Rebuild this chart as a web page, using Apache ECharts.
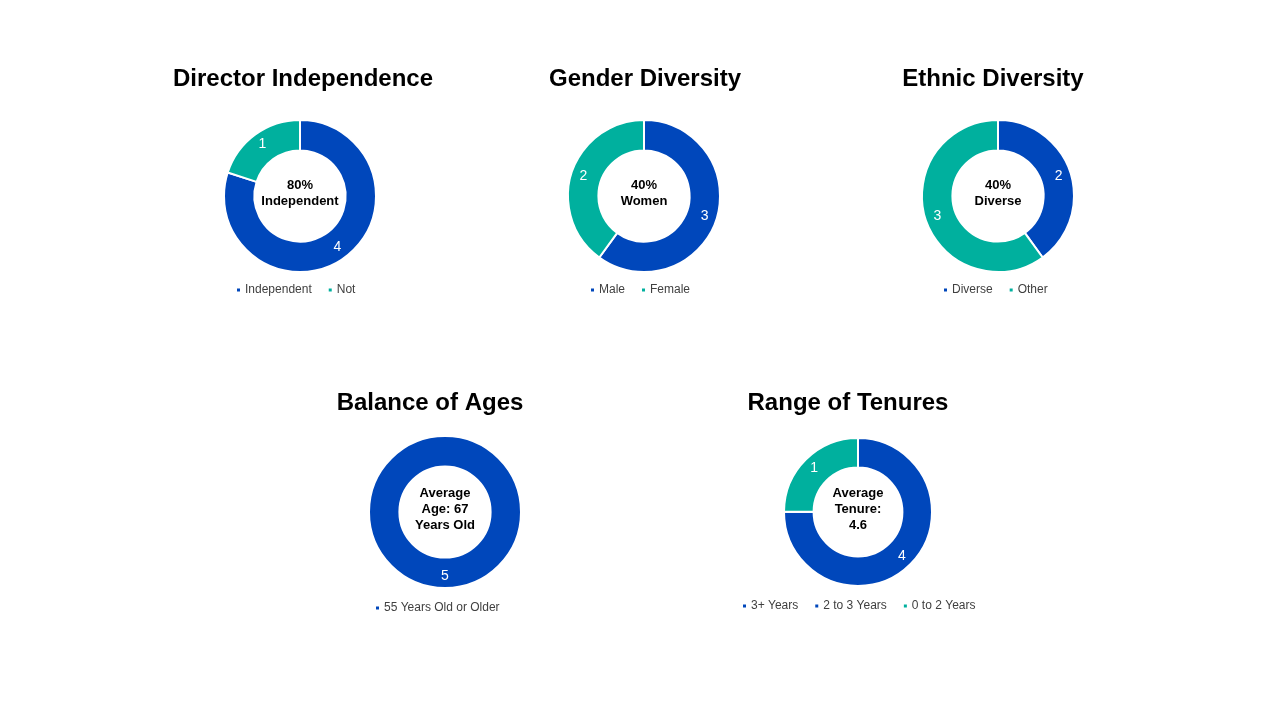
<!DOCTYPE html>
<html><head><meta charset="utf-8">
<script src="https://cdn.jsdelivr.net/npm/echarts@6/dist/echarts.min.js"></script>
<style>html,body{margin:0;padding:0;background:#fff}#c{width:1280px;height:720px}</style>
</head><body><div id="c"></div>
<script>
const BLUE = '#0047BB', TEAL = '#00B09E';
const chartTitles = ['Director Independence', 'Gender Diversity', 'Ethnic Diversity', 'Balance of Ages', 'Range of Tenures'];
const centerTexts = ['80%\nIndependent', '40%\nWomen', '40%\nDiverse', 'Average\nAge: 67\nYears Old', 'Average\nTenure:\n4.6'];
const independenceNames = ['Independent', 'Not'];
const independenceValues = [4, 1];
const genderNames = ['Male', 'Female'];
const genderValues = [3, 2];
const ethnicNames = ['Diverse', 'Other'];
const ethnicValues = [2, 3];
const ageNames = ['55 Years Old or Older'];
const ageValues = [5];
const tenureNames = ['3+ Years', '2 to 3 Years', '0 to 2 Years'];
// teal slice is drawn as a quarter of the ring in the reference; its label reads "1"
const tenureValues = [4, 0, 1.33];

const groups = [
  {names: independenceNames, values: independenceValues, colors: [BLUE, TEAL], c: [300, 196], r: 76, t: [303, 67], l: 279},
  {names: genderNames, values: genderValues, colors: [BLUE, TEAL], c: [644, 196], r: 76, t: [645, 67], l: 279},
  {names: ethnicNames, values: ethnicValues, colors: [BLUE, TEAL], c: [998, 196], r: 76, t: [993, 67], l: 279},
  {names: ageNames, values: ageValues, colors: [BLUE], c: [445, 512], r: 76, t: [430, 391], l: 597},
  {names: tenureNames, values: tenureValues, colors: [BLUE, BLUE, TEAL], c: [858, 512], r: 74, t: [848, 391], l: 595}
];
const legendCenters = [295, 640, 995, 437, 858];

const titles = [], series = [], legends = [];
groups.forEach((g, i) => {
  titles.push({text: chartTitles[i], left: g.t[0], top: g.t[1], textAlign: 'center', padding: 0,
    textStyle: {fontFamily: 'Liberation Sans', fontSize: 24, fontWeight: 'bold', color: '#000'}});
  const lines = centerTexts[i].split('\n').length;
  titles.push({text: centerTexts[i], left: g.c[0], top: g.c[1] - lines * 8 - 3, textAlign: 'center', padding: 0,
    textStyle: {fontFamily: 'Liberation Sans', fontSize: 13, fontWeight: 'bold', color: '#000', lineHeight: 16}});
  series.push({
    type: 'pie', center: g.c, radius: [g.r * 0.6, g.r], startAngle: 90, clockwise: true,
    avoidLabelOverlap: false, animation: false,
    itemStyle: {borderColor: '#fff', borderWidth: 2},
    label: {show: true, position: 'inside', color: '#fff', fontSize: 14, fontFamily: 'Liberation Sans',
      formatter: p => p.value === 0 ? '' : String(Math.round(p.value))},
    labelLine: {show: false},
    emphasis: {disabled: true},
    data: g.names.map((n, k) => ({name: n, value: g.values[k], itemStyle: {color: g.colors[k]}}))
  });
  legends.push({data: g.names, left: legendCenters[i], top: g.l, orient: 'horizontal',
    itemWidth: 5, itemHeight: 5, itemGap: 15, icon: 'rect', selectedMode: false,
    textStyle: {fontFamily: 'Liberation Sans', fontSize: 12, color: '#404040', padding: [0, 0, 0, -1]}});
});

const chart = echarts.init(document.getElementById('c'), null, {renderer: 'canvas'});
chart.setOption({backgroundColor: '#fff', title: titles, legend: legends, series: series});
const model = chart.getModel();
const newLegends = legends.map((lg, i) => {
  const comp = model.getComponent('legend', i);
  const view = chart.getViewOfComponentModel(comp);
  const rect = view.group.getBoundingRect();
  return {left: Math.round(legendCenters[i] - rect.width / 2)};
});
chart.setOption({legend: newLegends});
</script></body></html>
